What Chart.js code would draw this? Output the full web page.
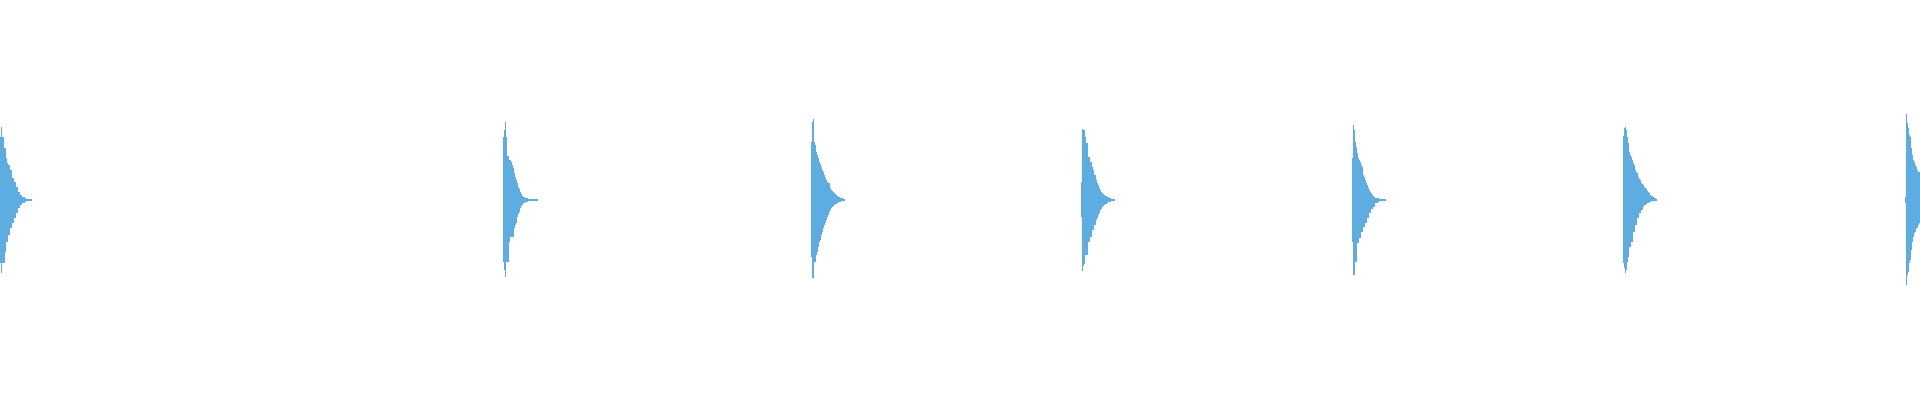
<!DOCTYPE html>
<html>
<head>
<meta charset="utf-8">
<title>Waveform</title>
<script src="https://cdn.jsdelivr.net/npm/chart.js@4.4.1/dist/chart.umd.min.js"></script>
<style>
    html, body { margin: 0; padding: 0; background: #ffffff; }
    #wrap { width: 1920px; height: 400px; }
</style>
</head>
<body>
<div id="wrap"><canvas id="wave" width="1920" height="400"></canvas></div>
<script>
// 파형 데이터: 각 타격(burst)의 시작 위치와 위/아래 진폭 포락선 (full scale = 200)
const onsets = [0, 503, 811, 1081, 1352, 1623, 1905];

const upperEnvelopes = [
    [63, 73, 63, 63, 52, 52, 42, 37, 35, 35, 30, 30, 22, 22, 18, 18, 13, 13, 8, 8, 5, 5, 3, 3, 3, 2, 1, 1, 1, 1, 1, 1],
    [63, 70, 78, 63, 44, 44, 40, 40, 38, 35, 32, 27, 23, 20, 17, 13, 11, 8, 6, 4, 3, 3, 2, 2, 2, 1, 1, 1, 1, 1, 1, 1, 1, 1, 1],
    [58, 78, 81, 58, 55, 48, 45, 42, 38, 36, 33, 30, 28, 25, 22, 20, 18, 17, 17, 12, 10, 9, 8, 7, 6, 5, 4, 3, 3, 2, 2, 2, 1, 1],
    [18, 71, 70, 70, 63, 57, 57, 43, 43, 38, 38, 33, 30, 25, 25, 20, 17, 15, 12, 10, 8, 7, 6, 5, 4, 4, 3, 3, 2, 2, 1, 1, 1, 1],
    [42, 75, 70, 58, 53, 47, 42, 40, 38, 35, 33, 25, 23, 20, 17, 15, 12, 10, 8, 7, 5, 4, 3, 2, 2, 2, 2, 1, 1, 1, 1, 1, 1, 1],
    [64, 72, 73, 70, 63, 57, 48, 45, 43, 40, 37, 35, 30, 28, 27, 23, 21, 20, 17, 16, 15, 13, 12, 11, 9, 8, 7, 5, 4, 4, 3, 2, 2, 1],
    [3, 86, 77, 72, 65, 63, 52, 45, 40, 38, 35, 33, 30, 28, 28]
];

const lowerEnvelopes = [
    [63, 73, 63, 63, 63, 52, 42, 42, 35, 35, 28, 28, 23, 23, 18, 18, 13, 13, 8, 8, 5, 5, 3, 3, 3, 2, 1, 1, 1, 1, 1, 1],
    [62, 70, 77, 62, 62, 62, 42, 37, 37, 37, 37, 28, 25, 23, 17, 14, 12, 8, 6, 5, 3, 3, 2, 2, 2, 1, 1, 1, 1, 1, 1, 1, 1, 1, 1],
    [57, 78, 78, 62, 62, 55, 52, 47, 42, 40, 35, 32, 28, 25, 23, 20, 17, 15, 12, 10, 8, 7, 6, 5, 4, 4, 3, 2, 2, 2, 1, 1, 1, 1],
    [17, 71, 66, 64, 55, 55, 55, 42, 42, 37, 37, 30, 30, 25, 25, 20, 18, 15, 13, 10, 9, 7, 6, 5, 4, 4, 3, 2, 2, 2, 1, 1, 1, 1],
    [42, 75, 75, 62, 62, 43, 43, 38, 38, 32, 32, 27, 27, 23, 23, 18, 18, 13, 13, 9, 9, 7, 7, 3, 3, 3, 2, 1, 1, 1, 1, 1, 1, 1],
    [63, 68, 73, 70, 62, 57, 47, 47, 42, 42, 32, 32, 25, 25, 18, 18, 13, 13, 10, 10, 7, 5, 5, 4, 3, 3, 2, 2, 1, 1, 1, 1, 1, 1],
    [3, 85, 75, 72, 63, 60, 50, 42, 37, 33, 32, 28, 28, 25, 23]
];

const waveColor = 'rgb(93, 173, 226)';

// 포락선 배열을 {x, y} 점 목록으로 변환
function envelopePoints(envelopes, sign) {
    const points = [];
    onsets.forEach((start, i) => {
        envelopes[i].forEach((v, k) => {
            points.push({ x: start + k, y: sign * v });
        });
        points.push({ x: start + envelopes[i].length, y: 0 });
    });
    return points;
}

const config = {
    type: 'line',
    data: {
        datasets: [
            {
                label: 'upper',
                data: envelopePoints(upperEnvelopes, 1),
                stepped: 'before',
                borderWidth: 0,
                pointRadius: 0,
                fill: 'origin',
                backgroundColor: waveColor,
                borderColor: waveColor
            },
            {
                label: 'lower',
                data: envelopePoints(lowerEnvelopes, -1),
                stepped: 'before',
                borderWidth: 0,
                pointRadius: 0,
                fill: 'origin',
                backgroundColor: waveColor,
                borderColor: waveColor
            }
        ]
    },
    options: {
        responsive: false,
        animation: false,
        devicePixelRatio: 1,
        layout: { padding: 0 },
        plugins: {
            legend: { display: false },
            tooltip: { enabled: false }
        },
        scales: {
            x: {
                type: 'linear',
                display: false,
                min: 0,
                max: 1920
            },
            y: {
                display: false,
                min: -200,
                max: 200
            }
        }
    }
};

new Chart(document.getElementById('wave'), config);
</script>
</body>
</html>
